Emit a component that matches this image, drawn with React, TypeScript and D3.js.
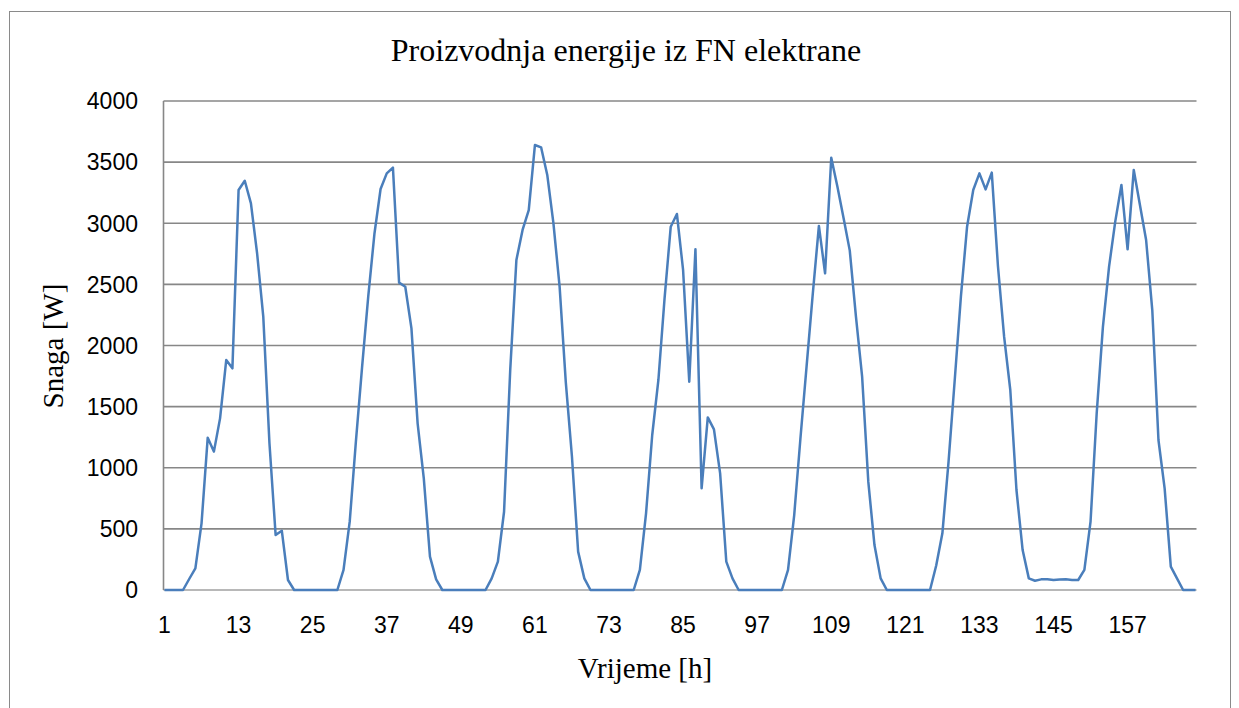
import React from "react";
import * as d3 from "d3";

const title = "Proizvodnja energije iz FN elektrane";
const yTitle = "Snaga [W]";
const xTitle = "Vrijeme [h]";

const hours: number[] = d3.range(1, 169);
const power: number[] = [
  0, 0, 0, 0, 90, 177, 545, 1246, 1132, 1404,
  1881, 1813, 3272, 3348, 3163, 2754, 2236, 1200, 450, 485,
  82, 0, 0, 0, 0, 0, 0, 0, 0, 164,
  559, 1213, 1821, 2400, 2912, 3280, 3408, 3455, 2514, 2481,
  2140, 1363, 913, 273, 87, 0, 0, 0, 0, 0,
  0, 0, 0, 95, 232, 640, 1800, 2700, 2945, 3108,
  3640, 3621, 3395, 2999, 2481, 1700, 1090, 314, 95, 0,
  0, 0, 0, 0, 0, 0, 0, 164, 627, 1268,
  1718, 2386, 2972, 3076, 2618, 1704, 2787, 832, 1412, 1314,
  954, 232, 95, 0, 0, 0, 0, 0, 0, 0,
  0, 164, 613, 1235, 1827, 2419, 2978, 2590, 3536, 3299,
  3040, 2776, 2236, 1745, 886, 368, 95, 0, 0, 0,
  0, 0, 0, 0, 0, 200, 464, 1050, 1718, 2400,
  2972, 3272, 3408, 3277, 3414, 2650, 2072, 1636, 818, 327,
  95, 76, 87, 87, 82, 85, 87, 82, 82, 164,
  560, 1450, 2150, 2645, 3013, 3313, 2787, 3436, 3149, 2863,
  2290, 1227, 832, 191, 95, 0, 0, 0,
];

const yTicks: number[] = [0, 500, 1000, 1500, 2000, 2500, 3000, 3500, 4000];
const xTicks: number[] = [1, 13, 25, 37, 49, 61, 73, 85, 97, 109, 121, 133, 145, 157];

export default function App() {
  const W = 1239;
  const H = 708;
  const left = 164.5;
  const right = 1195.5;
  const top = 101;
  const bottom = 590;

  const x = d3.scaleLinear().domain([1, 168]).range([left, right]);
  const y = d3.scaleLinear().domain([0, 4000]).range([bottom, top]);

  const line = d3
    .line<number>()
    .x((_, i) => x(hours[i]))
    .y((d) => y(d));

  const sans = "'Liberation Sans', Arial, sans-serif";
  const serif = "'Liberation Serif', 'Times New Roman', serif";

  return (
    <svg
      width={W}
      height={H}
      style={{ position: "absolute", left: 0, top: 0, background: "#fff" }}
    >
      <rect x={0} y={0} width={W} height={H} fill="#fff" />
      <rect
        x={9.5}
        y={11.5}
        width={1221}
        height={720}
        fill="none"
        stroke="#8a8a8a"
        strokeWidth={1}
      />
      <text
        x={626}
        y={61}
        textAnchor="middle"
        fontFamily={serif}
        fontSize={32}
        fill="#000"
      >
        {title}
      </text>
      {yTicks.map((t) => (
        <line
          key={"g" + t}
          x1={left - 1}
          x2={right + 1}
          y1={y(t)}
          y2={y(t)}
          stroke={t === 0 ? "#a0a0a0" : "#878787"}
          strokeWidth={1.6}
        />
      ))}
      <line x1={left - 1} x2={left - 1} y1={top} y2={bottom} stroke="#878787" strokeWidth={1.6} />
      {yTicks.map((t) => (
        <text
          key={"yl" + t}
          x={138}
          y={y(t)}
          dy="0.36em"
          textAnchor="end"
          fontFamily={sans}
          fontSize={23}
          fill="#000"
        >
          {t}
        </text>
      ))}
      {xTicks.map((t) => (
        <text
          key={"xl" + t}
          x={x(t)}
          y={633}
          textAnchor="middle"
          fontFamily={sans}
          fontSize={23}
          fill="#000"
        >
          {t}
        </text>
      ))}
      <path
        d={line(power) || ""}
        fill="none"
        stroke="#4a7ebb"
        strokeWidth={2.5}
        strokeLinejoin="round"
      />
      <text
        transform="translate(63,346) rotate(-90)"
        textAnchor="middle"
        fontFamily={serif}
        fontSize={29}
        fill="#000"
      >
        {yTitle}
      </text>
      <text
        x={645}
        y={678}
        textAnchor="middle"
        fontFamily={serif}
        fontSize={29}
        fill="#000"
      >
        {xTitle}
      </text>
    </svg>
  );
}
